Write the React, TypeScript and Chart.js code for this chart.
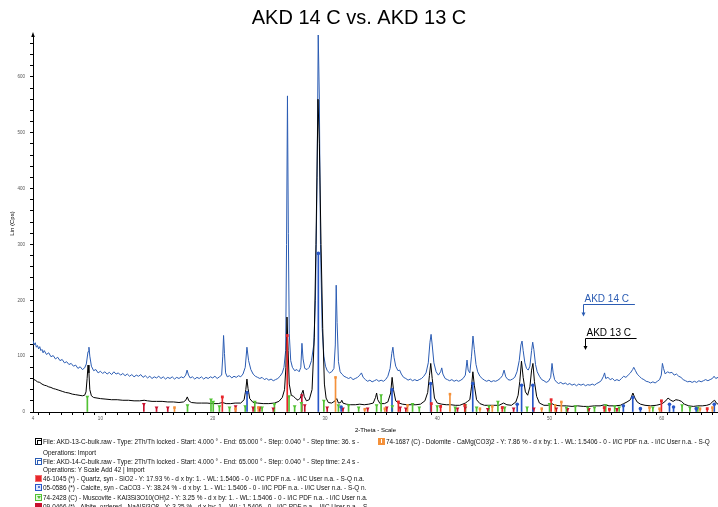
import React, { useEffect, useRef } from 'react';
import { Chart, registerables } from 'chart.js';

Chart.register(...registerables);

// ---------- data (2-Theta in degrees, Lin (Cps)) ----------
const akd13: [number, number][] = [
  [4.0, 59], [4.2, 57], [4.4, 54], [4.6, 53], [4.8, 50], [5.0, 48], [5.2, 47], [5.4, 45], [5.6, 44], [5.8, 42],
  [6.0, 41], [6.3, 39], [6.6, 37], [6.9, 35], [7.2, 34], [7.5, 32], [7.8, 31], [8.1, 30], [8.4, 29], [8.6, 30],
  [8.72, 36], [8.82, 60], [8.9, 84], [8.98, 70], [9.06, 40], [9.2, 29], [9.4, 26], [9.7, 25], [10.0, 24], [10.5, 23],
  [11.0, 22], [11.5, 22], [12.0, 21], [12.5, 21], [13.0, 20], [13.5, 20], [13.9, 21], [14.2, 20], [14.6, 19], [15.0, 19],
  [15.5, 19], [16.0, 18], [16.5, 18], [17.0, 17], [17.4, 18], [17.6, 21], [17.74, 27], [17.88, 20], [18.1, 17], [18.6, 16],
  [19.0, 16], [19.5, 16], [20.0, 15], [20.5, 15], [20.86, 17], [21.2, 15], [21.6, 15], [22.0, 16], [22.5, 16], [22.8, 22],
  [22.95, 40], [23.05, 59], [23.15, 42], [23.3, 24], [23.6, 17], [24.0, 16], [24.5, 15], [25.0, 15], [25.5, 16], [25.9, 19],
  [26.2, 26], [26.4, 40], [26.52, 80], [26.62, 170], [26.72, 110], [26.82, 50], [27.0, 30], [27.2, 28], [27.4, 24], [27.6, 21],
  [27.8, 25], [27.95, 34], [28.05, 39], [28.15, 28], [28.35, 20], [28.6, 22], [28.85, 40], [29.05, 134], [29.2, 300], [29.38, 560],
  [29.5, 480], [29.65, 300], [29.8, 150], [29.95, 50], [30.1, 25], [30.3, 17], [30.6, 16], [30.9, 20], [31.05, 24], [31.2, 16],
  [31.4, 17], [31.5, 21], [31.6, 16], [31.9, 14], [32.3, 13], [32.7, 13], [33.1, 14], [33.5, 13], [33.9, 14], [34.3, 16],
  [34.5, 26], [34.6, 34], [34.7, 22], [34.9, 15], [35.3, 15], [35.6, 18], [35.85, 34], [35.98, 62], [36.1, 40], [36.3, 20],
  [36.6, 16], [36.9, 14], [37.3, 13], [37.7, 13], [38.1, 13], [38.5, 14], [38.9, 20], [39.15, 35], [39.3, 65], [39.42, 87],
  [39.55, 60], [39.75, 25], [40.0, 16], [40.4, 14], [40.8, 13], [41.2, 13], [41.6, 12], [42.0, 12], [42.5, 16], [42.7, 19],
  [42.9, 22], [43.05, 45], [43.17, 72], [43.3, 48], [43.5, 22], [43.8, 15], [44.2, 12], [44.6, 12], [45.0, 12], [45.5, 12],
  [45.9, 16], [46.2, 13], [46.6, 12], [47.0, 18], [47.2, 30], [47.35, 55], [47.5, 91], [47.65, 62], [47.85, 36], [48.05, 30],
  [48.25, 45], [48.4, 75], [48.52, 87], [48.65, 55], [48.85, 28], [49.1, 16], [49.5, 12], [49.9, 12], [50.2, 15], [50.5, 12],
  [51.0, 11], [51.5, 11], [52.0, 10], [52.5, 11], [53.0, 10], [53.5, 10], [54.0, 11], [54.5, 11], [54.9, 13], [55.3, 11],
  [55.8, 11], [56.3, 12], [56.6, 15], [56.9, 18], [57.2, 22], [57.42, 34], [57.6, 25], [57.8, 18], [58.1, 14], [58.5, 12],
  [59.0, 11], [59.5, 12], [59.9, 14], [60.1, 16], [60.35, 20], [60.55, 25], [60.8, 21], [61.0, 19], [61.25, 22], [61.5, 21],
  [61.75, 19], [62.0, 14], [62.4, 11], [62.8, 10], [63.2, 11], [63.6, 11], [64.0, 12], [64.3, 14], [64.55, 19], [64.7, 21],
  [64.85, 16], [65.0, 14],
];

const akd14: [number, number][] = [
  [4.0, 128], [4.1, 120], [4.2, 124], [4.3, 116], [4.4, 119], [4.5, 113], [4.6, 117], [4.7, 110], [4.8, 112], [4.9, 106],
  [5.0, 110], [5.2, 103], [5.4, 106], [5.6, 99], [5.8, 101], [6.0, 95], [6.2, 98], [6.4, 92], [6.6, 94], [6.8, 88],
  [7.0, 90], [7.2, 85], [7.4, 87], [7.6, 82], [7.8, 84], [8.0, 78], [8.2, 81], [8.4, 76], [8.6, 79], [8.75, 86],
  [8.9, 108], [8.98, 116], [9.06, 100], [9.2, 82], [9.4, 74], [9.6, 76], [9.8, 70], [10.0, 73], [10.2, 69], [10.4, 72],
  [10.6, 68], [10.8, 71], [11.0, 67], [11.2, 72], [11.4, 68], [11.6, 70], [11.8, 66], [12.0, 69], [12.2, 65], [12.4, 68],
  [12.6, 64], [12.8, 67], [13.0, 63], [13.2, 66], [13.4, 64], [13.6, 67], [13.8, 62], [14.0, 65], [14.2, 61], [14.4, 64],
  [14.6, 60], [14.8, 63], [15.0, 61], [15.2, 64], [15.4, 60], [15.6, 63], [15.8, 59], [16.0, 62], [16.2, 60], [16.4, 63],
  [16.6, 59], [16.8, 62], [17.0, 60], [17.2, 63], [17.4, 61], [17.6, 66], [17.72, 75], [17.85, 66], [18.0, 61], [18.2, 63],
  [18.4, 59], [18.6, 62], [18.8, 60], [19.0, 63], [19.2, 59], [19.4, 62], [19.6, 60], [19.8, 63], [20.0, 61], [20.2, 64],
  [20.4, 60], [20.6, 63], [20.8, 66], [20.9, 100], [20.97, 137], [21.05, 105], [21.15, 70], [21.3, 63], [21.5, 65], [21.7, 61],
  [21.9, 64], [22.1, 62], [22.3, 65], [22.5, 63], [22.7, 68], [22.9, 80], [23.05, 116], [23.2, 92], [23.4, 76], [23.6, 68],
  [23.8, 64], [24.0, 62], [24.2, 60], [24.4, 62], [24.6, 58], [24.8, 60], [25.0, 57], [25.2, 59], [25.4, 56], [25.6, 58],
  [25.8, 60], [26.0, 64], [26.2, 70], [26.35, 80], [26.5, 110], [26.58, 300], [26.66, 566], [26.74, 320], [26.82, 140], [26.95, 92],
  [27.1, 80], [27.3, 74], [27.5, 76], [27.7, 72], [27.85, 80], [27.95, 123], [28.05, 95], [28.2, 78], [28.4, 76], [28.6, 80],
  [28.8, 92], [29.0, 120], [29.15, 200], [29.3, 420], [29.4, 675], [29.5, 560], [29.6, 300], [29.75, 150], [29.9, 100], [30.05, 82],
  [30.2, 74], [30.4, 70], [30.6, 72], [30.8, 78], [30.92, 120], [31.0, 227], [31.08, 160], [31.2, 90], [31.35, 72], [31.5, 68],
  [31.7, 64], [31.9, 62], [32.1, 60], [32.3, 62], [32.5, 58], [32.7, 60], [32.9, 62], [33.1, 66], [33.25, 70], [33.4, 62],
  [33.6, 58], [33.8, 55], [34.0, 57], [34.2, 54], [34.4, 56], [34.6, 58], [34.8, 55], [35.0, 57], [35.2, 55], [35.4, 58],
  [35.6, 64], [35.8, 78], [35.95, 105], [36.05, 116], [36.15, 98], [36.3, 82], [36.5, 74], [36.65, 75], [36.8, 68], [37.0, 62],
  [37.2, 60], [37.4, 57], [37.6, 59], [37.8, 56], [38.0, 58], [38.2, 56], [38.4, 58], [38.6, 60], [38.8, 64], [39.0, 70],
  [39.2, 88], [39.35, 125], [39.45, 139], [39.55, 120], [39.7, 88], [39.9, 72], [40.1, 66], [40.3, 72], [40.4, 79], [40.5, 68],
  [40.7, 60], [40.9, 58], [41.1, 56], [41.3, 58], [41.5, 55], [41.7, 57], [41.9, 55], [42.1, 57], [42.3, 60], [42.5, 66],
  [42.65, 93], [42.75, 75], [42.9, 70], [43.05, 100], [43.18, 136], [43.3, 112], [43.45, 85], [43.6, 72], [43.8, 64], [44.0, 60],
  [44.2, 57], [44.4, 55], [44.6, 57], [44.8, 54], [45.0, 56], [45.2, 55], [45.4, 57], [45.6, 60], [45.8, 65], [45.95, 75],
  [46.1, 63], [46.3, 58], [46.5, 57], [46.7, 59], [46.9, 62], [47.1, 72], [47.3, 92], [47.45, 120], [47.55, 127], [47.65, 110],
  [47.8, 88], [47.95, 78], [48.1, 75], [48.25, 82], [48.4, 110], [48.5, 125], [48.6, 112], [48.75, 85], [48.9, 72], [49.1, 64],
  [49.3, 58], [49.5, 56], [49.7, 53], [49.9, 55], [50.1, 62], [50.22, 87], [50.32, 70], [50.45, 58], [50.6, 54], [50.8, 51],
  [51.0, 53], [51.2, 50], [51.4, 52], [51.6, 49], [51.8, 51], [52.0, 48], [52.2, 50], [52.4, 47], [52.6, 50], [52.8, 48],
  [53.0, 50], [53.2, 47], [53.4, 49], [53.6, 48], [53.8, 50], [54.0, 48], [54.2, 51], [54.4, 53], [54.6, 56], [54.8, 64],
  [54.9, 70], [55.0, 60], [55.2, 62], [55.4, 58], [55.6, 60], [55.8, 56], [56.0, 58], [56.2, 56], [56.4, 60], [56.6, 64],
  [56.8, 62], [57.0, 66], [57.2, 70], [57.4, 76], [57.5, 80], [57.65, 74], [57.8, 68], [58.0, 64], [58.2, 60], [58.4, 58],
  [58.6, 55], [58.8, 54], [59.0, 52], [59.2, 54], [59.4, 52], [59.6, 55], [59.8, 58], [59.95, 66], [60.05, 87], [60.15, 78],
  [60.3, 68], [60.5, 72], [60.7, 70], [60.9, 71], [61.1, 66], [61.3, 68], [61.5, 64], [61.7, 62], [61.9, 58], [62.1, 56],
  [62.3, 54], [62.5, 55], [62.7, 53], [62.9, 55], [63.1, 53], [63.3, 56], [63.5, 54], [63.7, 56], [63.9, 58], [64.1, 56],
  [64.3, 58], [64.5, 60], [64.65, 64], [64.8, 60], [65.0, 62],
];

// phase reference sticks: [2-Theta, height]
const quartzSticks: [number, number][] = [
  [20.86, 27], [26.64, 137], [36.54, 18], [39.47, 15], [40.30, 10], [42.45, 12], [45.79, 8], [50.14, 22],
  [54.87, 8], [55.33, 5], [59.96, 20], [64.04, 6],
];
const calciteSticks: [number, number][] = [
  [23.06, 35], [29.41, 284], [31.44, 9], [35.97, 40], [39.41, 51], [43.16, 51], [47.12, 14], [47.51, 48],
  [48.51, 48], [56.57, 11], [57.41, 26], [58.09, 6], [60.68, 14], [61.04, 9], [63.06, 6], [64.67, 14],
];
const muscoviteSticks: [number, number][] = [
  [8.84, 27], [17.76, 12], [19.85, 22], [20.05, 18], [20.6, 10], [21.5, 8], [22.9, 10], [23.75, 18], [24.4, 8],
  [25.5, 14], [26.8, 28], [27.3, 10], [27.9, 16], [29.9, 20], [31.2, 12], [32.1, 12], [33.0, 8], [34.6, 12],
  [35.0, 30], [36.0, 10], [37.8, 14], [38.4, 8], [40.0, 10], [41.6, 8], [42.5, 12], [43.5, 8], [44.6, 10],
  [45.4, 18], [46.0, 8], [48.0, 8], [50.0, 14], [51.5, 8], [52.3, 10], [53.4, 8], [54.0, 8], [55.0, 12],
  [55.8, 10], [56.2, 8], [59.2, 8], [61.8, 12], [62.5, 8], [63.2, 8],
];
const dolomiteSticks: [number, number][] = [
  [16.6, 8], [22.03, 6], [24.06, 8], [30.94, 62], [33.54, 5], [35.33, 6], [37.35, 12], [41.13, 32], [43.8, 6],
  [44.9, 10], [49.3, 6], [50.5, 12], [51.05, 18], [58.9, 8], [59.8, 6], [63.4, 6], [64.5, 8],
];
const albiteSticks: [number, number][] = [
  [13.87, 14], [15.0, 8], [16.0, 8], [22.04, 10], [23.6, 8], [24.2, 8], [25.4, 6], [27.94, 30], [28.2, 12],
  [30.2, 8], [31.6, 6], [33.8, 6], [35.5, 8], [36.7, 8], [37.2, 6], [41.8, 6], [42.5, 8], [44.5, 5],
  [46.8, 6], [48.6, 6], [50.6, 6], [51.6, 5], [53.5, 5], [56.0, 5],
];

const xTickLabels = [4, 10, 20, 30, 40, 50, 60];
const yTickLabels = [0, 100, 200, 300, 400, 500, 600];

// curve labels (anchor 2-Theta, anchor Lin, underline end 2-Theta, arrow tip Lin)
const curveLabelNames = ['AKD 14 C', 'AKD 13 C'];
const curveLabelX = [52.98, 53.16];
const curveLabelY = [193, 132];
const curveLabelEndX = [57.6, 57.75];
const curveLabelTipY = [171, 111];

const legendLines = [
  'File: AKD-13-C-bulk.raw - Type: 2Th/Th locked - Start: 4.000 ° - End: 65.000 ° - Step: 0.040 ° - Step time: 36. s -',
  'Operations: Import',
  'File: AKD-14-C-bulk.raw - Type: 2Th/Th locked - Start: 4.000 ° - End: 65.000 ° - Step: 0.040 ° - Step time: 2.4 s -',
  'Operations: Y Scale Add 42 | Import',
  '46-1045 (*) - Quartz, syn - SiO2 - Y: 17.93 % - d x by: 1. - WL: 1.5406 - 0 - I/IC PDF n.a. - I/IC User n.a. - S-Q n.a.',
  '05-0586 (*) - Calcite, syn - CaCO3 - Y: 38.24 % - d x by: 1. - WL: 1.5406 - 0 - I/IC PDF n.a. - I/IC User n.a. - S-Q n.',
  '74-2428 (C) - Muscovite - KAl3Si3O10(OH)2 - Y: 3.25 % - d x by: 1. - WL: 1.5406 - 0 - I/IC PDF n.a. - I/IC User n.a.',
  '09-0466 (*) - Albite, ordered - NaAlSi3O8 - Y: 3.25 % - d x by: 1. - WL: 1.5406 - 0 - I/IC PDF n.a. - I/IC User n.a. - S',
];
const legendRight = '74-1687 (C) - Dolomite - CaMg(CO3)2 - Y: 7.86 % - d x by: 1. - WL: 1.5406 - 0 - I/IC PDF n.a. - I/IC User n.a. - S-Q';

const BLUE = '#2b5cb3';
const QUARTZ = '#e8262b';
const CALCITE = '#2857c8';
const MUSC = '#52c234';
const DOLO = '#f4913a';
const ALBITE = '#c8102e';

const FONT = '"Liberation Sans", Arial, Helvetica, sans-serif';

const toXY = (arr: [number, number][]) => arr.map(([x, y]) => ({ x, y }));

function stickDatasets(label: string, arr: [number, number][], color: string, pointStyle: string, rotation: number, radius: number) {
  return [
    {
      type: 'bar' as const,
      label: label + ' sticks',
      data: toXY(arr),
      backgroundColor: color,
      borderWidth: 0,
      barThickness: 1,
      grouped: false,
      order: 1,
    },
    {
      type: 'line' as const,
      label: label,
      data: toXY(arr),
      showLine: false,
      pointStyle,
      rotation,
      pointRadius: radius,
      pointHoverRadius: radius,
      pointBackgroundColor: color,
      pointBorderColor: color,
      pointBorderWidth: 0,
      order: 0,
    },
  ];
}

const decorPlugin = {
  id: 'decor',
  afterDatasetsDraw(chart: any) {
    const { ctx, scales, chartArea } = chart;
    const xs = scales.x;
    const ys = scales.y;
    ctx.save();
    // axis arrow on y axis top
    ctx.fillStyle = '#000';
    ctx.beginPath();
    ctx.moveTo(chartArea.left, chartArea.top - 3);
    ctx.lineTo(chartArea.left - 1.8, chartArea.top + 2);
    ctx.lineTo(chartArea.left + 1.8, chartArea.top + 2);
    ctx.closePath();
    ctx.fill();
    // curve labels
    const colors = [BLUE, '#000'];
    for (let i = 0; i < curveLabelNames.length; i++) {
      const x0 = Math.round(xs.getPixelForValue(curveLabelX[i])) + 0.5;
      const y0 = Math.round(ys.getPixelForValue(curveLabelY[i])) + 0.5;
      const x1 = xs.getPixelForValue(curveLabelEndX[i]);
      const yt = ys.getPixelForValue(curveLabelTipY[i]);
      ctx.strokeStyle = colors[i];
      ctx.fillStyle = colors[i];
      ctx.lineWidth = 1;
      ctx.font = '10px ' + FONT;
      ctx.textBaseline = 'alphabetic';
      ctx.textAlign = 'left';
      ctx.fillText(curveLabelNames[i], x0 + 1, y0 - 3);
      ctx.beginPath();
      ctx.moveTo(x1, y0);
      ctx.lineTo(x0, y0);
      ctx.lineTo(x0, yt - 3);
      ctx.stroke();
      ctx.beginPath();
      ctx.moveTo(x0, yt);
      ctx.lineTo(x0 - 2, yt - 4);
      ctx.lineTo(x0 + 2, yt - 4);
      ctx.closePath();
      ctx.fill();
    }
    ctx.restore();
  },
};

function Icon({ kind }: { kind: string }) {
  const base: React.CSSProperties = {
    position: 'absolute', width: 7, height: 7, boxSizing: 'border-box',
  };
  if (kind === 'raw13') return <div style={{ ...base, border: '1px solid #000', background: '#fff' }}><div style={{ position: 'absolute', left: 1, top: 1, width: 3, height: 4, borderLeft: '1px solid #000', borderRight: '1px solid #000', borderTop: '1px solid #000' }} /></div>;
  if (kind === 'raw14') return <div style={{ ...base, border: '1px solid ' + BLUE, background: '#fff' }}><div style={{ position: 'absolute', left: 1, top: 1, width: 3, height: 4, borderLeft: '1px solid ' + BLUE, borderRight: '1px solid ' + BLUE, borderTop: '1px solid ' + BLUE }} /></div>;
  if (kind === 'quartz') return <div style={{ ...base, background: QUARTZ, border: '1px solid #f07070' }} />;
  if (kind === 'calcite') return <div style={{ ...base, border: '1px solid ' + CALCITE, background: '#dfe8ff' }}><div style={{ position: 'absolute', left: 1.5, top: 1.5, width: 2, height: 2, borderRadius: 1, background: CALCITE }} /></div>;
  if (kind === 'musc') return <div style={{ ...base, border: '1px solid ' + MUSC, background: '#e6f7df' }}><div style={{ position: 'absolute', left: 0.5, top: 1, width: 0, height: 0, borderLeft: '2px solid transparent', borderRight: '2px solid transparent', borderTop: '3px solid ' + MUSC }} /></div>;
  if (kind === 'albite') return <div style={{ ...base, background: ALBITE }} />;
  return <div style={{ ...base, background: DOLO }}><div style={{ position: 'absolute', left: 2.5, top: 1, width: 1, height: 4, background: '#fff' }} /></div>;
}

export default function App() {
  const ref = useRef<HTMLCanvasElement | null>(null);

  useEffect(() => {
    if (!ref.current) return;
    Chart.defaults.font.family = FONT;
    const chart = new Chart(ref.current, {
      type: 'line',
      data: {
        datasets: [
          ...stickDatasets('Quartz', quartzSticks, QUARTZ, 'rect', 0, 2),
          ...stickDatasets('Calcite', calciteSticks, CALCITE, 'circle', 0, 1.8),
          ...stickDatasets('Muscovite', muscoviteSticks, MUSC, 'triangle', 180, 2.2),
          ...stickDatasets('Dolomite', dolomiteSticks, DOLO, 'rect', 0, 1.8),
          ...stickDatasets('Albite', albiteSticks, ALBITE, 'triangle', 180, 2.2),
          {
            type: 'line',
            label: 'AKD 13 C',
            data: toXY(akd13),
            borderColor: '#000',
            borderWidth: 1,
            pointRadius: 0,
            tension: 0,
            order: 2,
          } as any,
          {
            type: 'line',
            label: 'AKD 14 C',
            data: toXY(akd14),
            borderColor: BLUE,
            borderWidth: 1,
            pointRadius: 0,
            tension: 0,
            order: 3,
          } as any,
        ] as any,
      },
      options: {
        animation: false,
        responsive: false,
        events: [],
        layout: { padding: 0, autoPadding: false },
        plugins: {
          legend: { display: false },
          tooltip: { enabled: false },
          title: {
            display: true,
            text: 'AKD 14 C vs. AKD 13 C',
            color: '#000',
            font: { size: 20, weight: 'normal', family: FONT },
            padding: { top: 6, bottom: 5 },
          },
        },
        scales: {
          x: {
            type: 'linear',
            min: 4,
            max: 65,
            offset: false,
            afterFit: (s: any) => { s.height = 28; s.paddingLeft = 0; s.paddingRight = 0; },
            afterBuildTicks: (s: any) => { s.ticks = s.ticks.filter((t: any) => Number.isInteger(t.value)); },
            ticks: {
              stepSize: 1,
              autoSkip: false,
              maxRotation: 0,
              padding: 1,
              color: '#555',
              font: { size: 4.5 },
              callback: (v: any) => (xTickLabels.includes(Number(v)) ? String(v) : ''),
            },
            grid: { display: true, drawOnChartArea: false, drawTicks: true, tickLength: 3, color: '#000' },
            border: { display: true, color: '#000', width: 1 },
            title: {
              display: true,
              text: '2-Theta - Scale',
              color: '#000',
              font: { size: 6 },
              padding: { top: 0, bottom: 6 },
            },
          },
          y: {
            type: 'linear',
            min: 0,
            max: 675,
            afterFit: (s: any) => { s.width = 33; },
            afterBuildTicks: (s: any) => { s.ticks = s.ticks.filter((t: any) => t.value % 20 === 0); },
            ticks: {
              stepSize: 20,
              autoSkip: false,
              padding: 5,
              color: '#555',
              font: { size: 4.5 },
              callback: (v: any) => (yTickLabels.includes(Number(v)) ? String(v) : ''),
            },
            grid: { display: true, drawOnChartArea: false, drawTicks: true, tickLength: 3, color: '#000' },
            border: { display: true, color: '#000', width: 1 },
            title: {
              display: true,
              text: 'Lin (Cps)',
              color: '#000',
              font: { size: 6 },
              padding: { top: 9, bottom: 0 },
            },
          },
        },
      } as any,
      plugins: [decorPlugin],
    });
    return () => chart.destroy();
  }, []);

  const lineCenters = [441, 452, 461, 469, 478, 487, 497, 506];
  const icons: Record<number, string> = { 0: 'raw13', 2: 'raw14', 4: 'quartz', 5: 'calcite', 6: 'musc', 7: 'albite' };
  const textStyle: React.CSSProperties = {
    position: 'absolute', fontFamily: FONT, fontSize: 6.4, lineHeight: '7px', color: '#111', whiteSpace: 'nowrap',
  };

  return (
    <div style={{ position: 'fixed', left: 0, top: 0, width: 718, height: 507, overflow: 'hidden', background: '#fff' }}>
      <canvas ref={ref} width={718} height={440} style={{ display: 'block', width: 718, height: 440 }} />
      {legendLines.map((t, i) => (
        <React.Fragment key={i}>
          {icons[i] !== undefined && (
            <div style={{ position: 'absolute', left: 35, top: lineCenters[i] - 3.5, width: 7, height: 7 }}>
              <Icon kind={icons[i]} />
            </div>
          )}
          <div style={{ ...textStyle, left: 43, top: lineCenters[i] - 3.5 }}>{t}</div>
        </React.Fragment>
      ))}
      <div style={{ position: 'absolute', left: 378, top: lineCenters[0] - 3.5, width: 7, height: 7 }}>
        <Icon kind="dolo" />
      </div>
      <div style={{ ...textStyle, left: 386, top: lineCenters[0] - 3.5 }}>{legendRight}</div>
    </div>
  );
}
